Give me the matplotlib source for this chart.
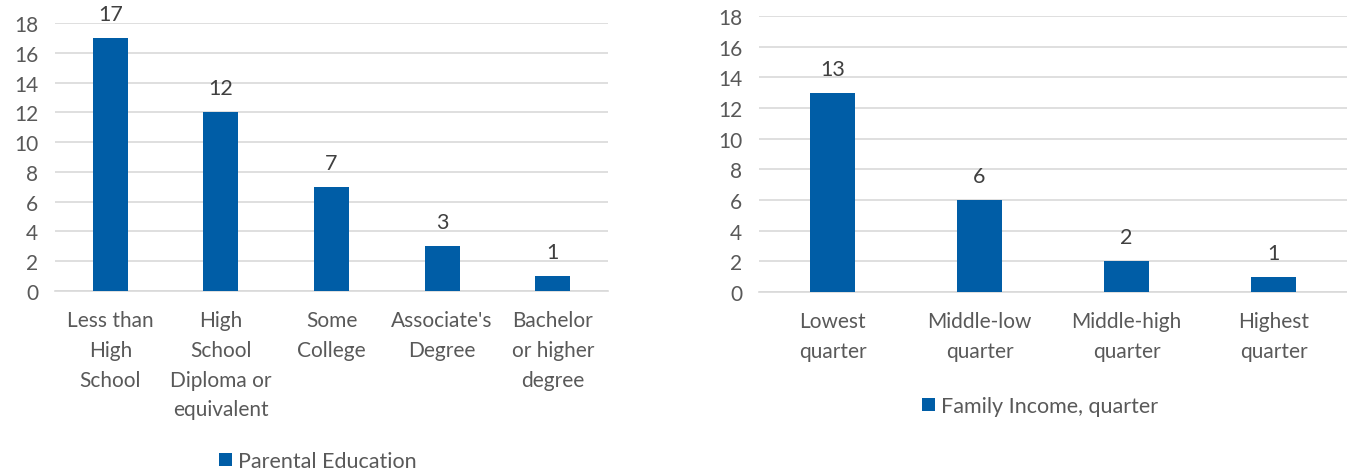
import matplotlib.pyplot as plt

plt.rcParams['font.family'] = ['Lato', 'DejaVu Sans']

edu_labels = ['Less than\nHigh\nSchool', 'High\nSchool\nDiploma or\nequivalent',
              'Some\nCollege', "Associate's\nDegree", 'Bachelor\nor higher\ndegree']
edu_counts = [17, 12, 7, 3, 1]

inc_labels = ['Lowest\nquarter', 'Middle-low\nquarter', 'Middle-high\nquarter', 'Highest\nquarter']
inc_counts = [13, 6, 2, 1]

bar_color = '#005DA6'
text_color = '#595959'
grid_color = '#D9D9D9'

fig = plt.figure(figsize=(13.47, 4.77), dpi=100)
ax1 = fig.add_axes([55 / 1347, 1 - 292 / 477, 553 / 1347, 268 / 477])
ax2 = fig.add_axes([759 / 1347, 1 - 293 / 477, 588 / 1347, 276 / 477])


def draw(ax, labels, counts, width, legend_label, legend_pos):
    x = range(len(counts))
    bars = ax.bar(x, counts, width=width, color=bar_color, zorder=3, label=legend_label)
    for b, v in zip(bars, counts):
        ax.annotate(str(v), (b.get_x() + b.get_width() / 2, v), xytext=(0, 10),
                    textcoords='offset points', ha='center', va='bottom',
                    fontsize=15.5, color='#404040')
    ax.set_xlim(-0.5, len(counts) - 0.5)
    ax.set_ylim(0, 18)
    ax.set_yticks(range(0, 19, 2))
    ax.set_xticks(list(x))
    ax.set_xticklabels(labels, linespacing=1.6)
    ax.tick_params(axis='both', length=0, labelsize=15, colors=text_color)
    ax.tick_params(axis='x', pad=14)
    ax.tick_params(axis='y', pad=12)
    ax.grid(axis='y', color=grid_color, linewidth=1.2, zorder=0)
    for s in ['top', 'right', 'left']:
        ax.spines[s].set_visible(False)
    ax.spines['bottom'].set_color(grid_color)
    ax.spines['bottom'].set_linewidth(1.2)
    fig.legend(handles=[bars], labels=[legend_label], loc='center',
               bbox_to_anchor=legend_pos, frameon=False, fontsize=15.5,
               labelcolor=text_color, handlelength=0.6, handleheight=0.6,
               handletextpad=0.3)


draw(ax1, edu_labels, edu_counts, 0.315, 'Parental Education', (318 / 1347, 1 - 462 / 477))
draw(ax2, inc_labels, inc_counts, 0.31, 'Family Income, quarter', (1040 / 1347, 1 - 407 / 477))

fig.savefig('out.png', dpi=100)
